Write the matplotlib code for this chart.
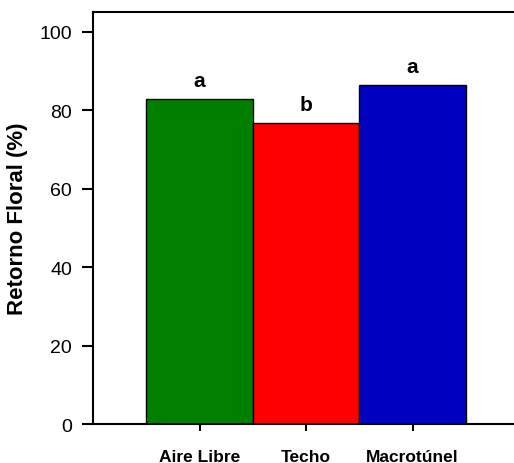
import matplotlib
matplotlib.use("Agg")
import matplotlib.pyplot as plt

# Data
treatments = ["Aire Libre", "Techo", "Macrotúnel"]
retorno = [82.8, 76.6, 86.3]
letters = ["a", "b", "a"]
colors = ["#008000", "#ff0000", "#0000c0"]

plt.rcParams["font.family"] = ["Liberation Sans", "DejaVu Sans"]

fig = plt.figure(figsize=(5.14, 4.64), dpi=100)
ax = fig.add_axes([0.181, 0.084, 0.819, 0.888])

positions = list(range(1, len(treatments) + 1))
ax.bar(positions, retorno, width=1.0, color=colors,
       edgecolor="black", linewidth=1.0, zorder=2)

# Significance letters above each bar
for x, y, lab in zip(positions, retorno, letters):
    ax.text(x, y + 4.8, lab, ha="center", va="center",
            fontsize=15, fontweight="bold")

ax.set_xlim(0, 3.953)
ax.set_ylim(0, 105)
ax.set_yticks([0, 20, 40, 60, 80, 100])
ax.set_xticks(positions)
ax.set_xticklabels(treatments, fontsize=12.5, fontweight="bold")
ax.tick_params(axis="y", labelsize=14, length=8, width=1.5, pad=7)
ax.tick_params(axis="x", length=5, width=1.5, pad=13)

ax.spines["right"].set_visible(False)
for side in ["left", "top", "bottom"]:
    ax.spines[side].set_linewidth(1.5)

ax.set_ylabel("Retorno Floral (%)", fontsize=16, fontweight="bold", labelpad=8)

fig.savefig("out.png", dpi=100)
